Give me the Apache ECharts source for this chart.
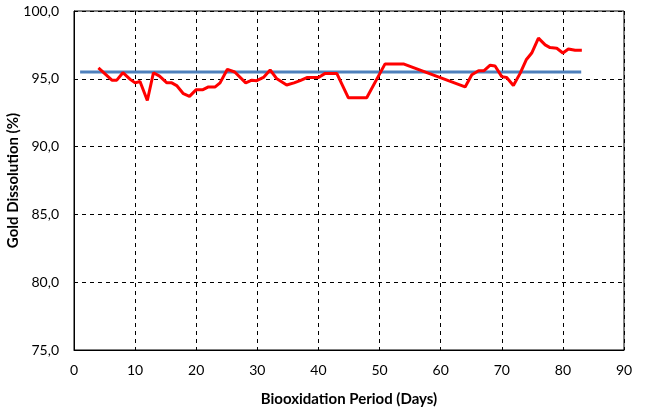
<!DOCTYPE html>
<html><head><meta charset="utf-8">
<script src="https://cdn.jsdelivr.net/npm/echarts@6/dist/echarts.min.js"></script>
<style>html,body{margin:0;padding:0;background:#fff}#c{width:662px;height:414px}</style>
</head><body><div id="c"></div>
<script>
var days = [4,6.2,7,8,9.2,10,10.8,12,13,14,15.2,16,16.8,17.9,18.9,20,21.1,22,23.1,23.9,25.1,26.3,28.1,29.1,29.9,31,32.1,33.2,34.8,36,37,38.2,40,41.1,43,44.9,47.9,50.9,53.9,64,65.1,66.2,67.1,68.1,68.9,70,70.8,71.9,73,74,74.9,76,77.1,77.9,79,80,80.9,82,83.1];
var dissolution = [95.8,94.9,94.9,95.45,94.96,94.7,94.8,93.4,95.45,95.2,94.7,94.7,94.5,93.9,93.7,94.2,94.2,94.4,94.4,94.7,95.7,95.5,94.7,94.9,94.86,95.1,95.65,95.0,94.54,94.7,94.86,95.1,95.1,95.4,95.4,93.6,93.6,96.1,96.1,94.4,95.3,95.6,95.6,96.0,95.94,95.16,95.1,94.5,95.4,96.4,96.9,98.0,97.5,97.3,97.25,96.9,97.2,97.1,97.1];
var refDays = [1,83];
var refValue = [95.5,95.5];
var xTicks = {min:0,max:90,interval:10};
var yTicks = {min:75,max:100,interval:5};

var chart = echarts.init(document.getElementById('c'));
var font = 'Lato';
chart.setOption({
  animation:false,
  grid:{left:74,right:38,top:11,bottom:64,show:true,borderColor:'#000',borderWidth:1,
    outerBoundsMode:'none',containLabel:false},
  xAxis:{type:'value',min:xTicks.min,max:xTicks.max,interval:xTicks.interval,
    name:'Biooxidation Period (Days)',nameLocation:'middle',nameGap:42,nameMoveOverlap:false,
    nameTextStyle:{fontFamily:font,fontWeight:'bold',fontSize:15,color:'#000'},
    axisLine:{show:true,lineStyle:{color:'#000',width:1}},axisTick:{show:false},
    axisLabel:{fontFamily:font,fontSize:14,color:'#000',margin:13},
    splitLine:{show:true,lineStyle:{color:'#000',type:[4,4],width:1}}},
  yAxis:{type:'value',min:yTicks.min,max:yTicks.max,interval:yTicks.interval,
    name:'Gold Dissolution (%)',nameLocation:'middle',nameGap:53,nameMoveOverlap:false,
    nameTextStyle:{fontFamily:font,fontWeight:'bold',fontSize:15,color:'#000'},
    axisLine:{show:true,lineStyle:{color:'#000',width:1}},axisTick:{show:false},
    axisLabel:{fontFamily:font,fontSize:14,color:'#000',margin:15,
      formatter:function(v){return v.toFixed(1).replace('.',',');}},
    splitLine:{show:true,lineStyle:{color:'#000',type:[4,4],width:1}}},
  series:[
    {type:'line',data:refDays.map(function(d,i){return [d,refValue[i]];}),
     showSymbol:false,lineStyle:{color:'#4f81bd',width:3},z:2},
    {type:'line',data:days.map(function(d,i){return [d,dissolution[i]];}),
     showSymbol:false,lineStyle:{color:'#ff0000',width:3},z:3}
  ]
});
</script></body></html>
